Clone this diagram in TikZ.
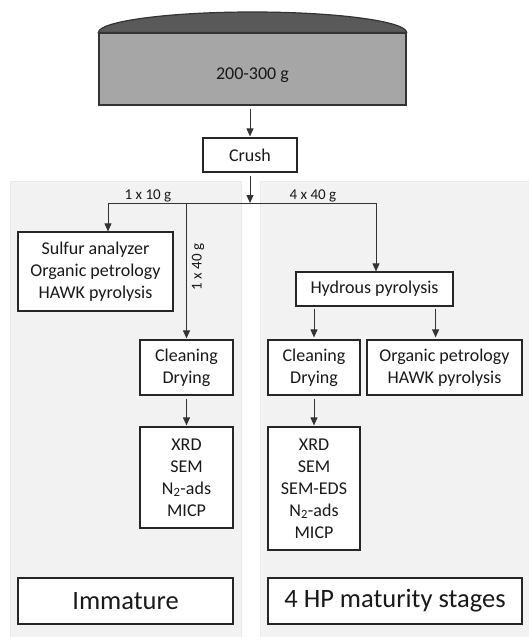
\documentclass[tikz,border=0pt]{standalone}
\usepackage{fontspec}
\setmainfont{Carlito}
\usetikzlibrary{arrows.meta, positioning}

\definecolor{panelgray}{HTML}{F2F2F2}
\definecolor{samplegray}{HTML}{A6A6A6}
\definecolor{domegray}{HTML}{595959}
\definecolor{linegray}{HTML}{333333}

\begin{document}
\begin{tikzpicture}[x=1pt, y=-1pt,
    box/.style={rectangle, draw=black!85, line width=1.2pt, fill=white, inner sep=0pt, align=center, text=black!90, font=\fontsize{18}{22}\selectfont},
    title/.style={box, font=\fontsize{26.5}{32}\selectfont},
    panel/.style={draw=black!8, fill=panelgray, line width=0.6pt},
    lbl/.style={inner sep=0pt, text=black!90, font=\fontsize{15}{18}\selectfont},
    arr/.style={draw=linegray, line width=0.9pt, -{Triangle[length=8pt, width=7pt]}},
    link/.style={draw=linegray, line width=0.9pt}
]
    \useasboundingbox (0,0) rectangle (529,637);

    % Background panels
    \fill[panel] (10,181) rectangle (241,640);
    \fill[panel] (260,181) rectangle (532,640);
    \draw[draw=black!8, line width=0.6pt] (10,640) -- (10,181) -- (241,181) -- (241,640);
    \draw[draw=black!8, line width=0.6pt] (260,640) -- (260,181) -- (532,181);

    % Sample
    \node[rectangle, draw=black!80, line width=1.2pt, fill=samplegray, minimum width=307pt, minimum height=72pt, inner sep=0pt] (sample) at (252.5,69) {};
    \filldraw[fill=domegray, draw=black!80, line width=1.2pt] (sample.north west)
        .. controls (99,21.4) and (167.7,12) .. (252.5,12)
        .. controls (337.3,12) and (406,21.4) .. (sample.north east) -- cycle;
    \node[lbl, font=\fontsize{18}{22}\selectfont] (mass) at (252.5,75) {200-300 g};

    % Crush
    \node[box, minimum width=94pt, minimum height=34pt] (crush) at (250,155) {Crush};

    % Immature branch
    \node[box, minimum width=155pt, minimum height=79pt] (sulfur) at (95.5,271.5) {Sulfur analyzer\\Organic petrology\\HAWK pyrolysis};
    \node[box, minimum width=93pt, minimum height=55pt] (cleanL) at (186.5,367.5) {Cleaning\\Drying};
    \node[box, minimum width=93pt, minimum height=101pt] (xrdL) at (186.5,477.5) {XRD\\SEM\\N\textsubscript{2}-ads\\MICP};
    \node[title, minimum width=215pt, minimum height=46pt] (immature) at (125.5,601) {Immature};

    % Hydrous pyrolysis branch
    \node[box, minimum width=157pt, minimum height=34pt] (hydrous) at (374.5,289) {Hydrous pyrolysis};
    \node[box, minimum width=92pt, minimum height=55pt] (cleanR) at (314,367.5) {Cleaning\\Drying};
    \node[box, minimum width=155pt, minimum height=55pt] (orgR) at (444.5,367.5) {Organic petrology\\HAWK pyrolysis};
    \node[box, minimum width=92pt, minimum height=123pt] (xrdR) at (314,488.5) {XRD\\SEM\\SEM-EDS\\N\textsubscript{2}-ads\\MICP};
    \node[title, minimum width=254pt, minimum height=46pt] (stages) at (395,601) {4 HP maturity stages};

    % Split points
    \coordinate (split) at (250,203);
    \coordinate (splitL) at (108,203);
    \coordinate (splitR) at (376,203);

    % Labels
    \node[lbl] (tenL) at (148,196) {1 x 10 g};
    \node[lbl, rotate=90] (fortyL) at (198,267) {1 x 40 g};
    \node[lbl] (fortyR) at (313,196) {4 x 40 g};

    % Connections
    \draw[arr, shorten <=3pt, shorten >=1pt] (crush.north |- sample.south) -- (crush);
    \draw[arr, shorten <=3pt] (crush) -- (split);
    \draw[link] (splitL) -- (splitR);
    \draw[arr] (splitL) -- (splitL |- sulfur.north);
    \draw[arr, shorten >=1pt] (cleanL.north |- split) -- (cleanL);
    \draw[arr] (splitR) -- (splitR |- hydrous.north);
    \draw[arr, shorten <=2pt, shorten >=2pt] (hydrous.south -| cleanR) -- (cleanR);
    \draw[arr, shorten <=2pt, shorten >=2pt] ([xshift=-18pt]hydrous.south east) -- ([xshift=-18pt]hydrous.south east |- orgR.north);
    \draw[arr, shorten <=3pt, shorten >=1pt] (cleanL) -- (xrdL);
    \draw[arr, shorten <=3pt, shorten >=1pt] (cleanR) -- (xrdR);
\end{tikzpicture}
\end{document}
